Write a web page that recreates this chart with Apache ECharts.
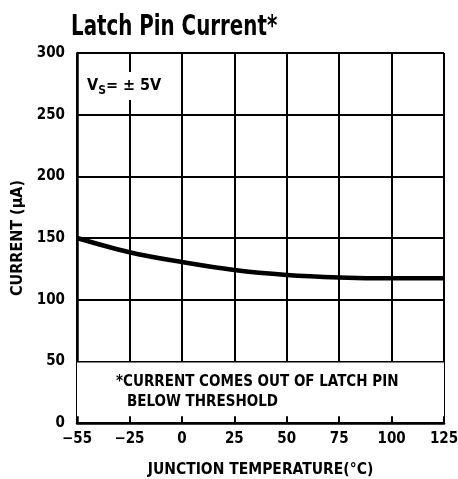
<!DOCTYPE html>
<html>
<head>
<meta charset="utf-8">
<script src="https://cdn.jsdelivr.net/npm/echarts@6/dist/echarts.min.js"></script>
<style>
  html, body { margin: 0; padding: 0; background: #fff; }
  #main { width: 458px; height: 479px; }
</style>
</head>
<body>
<div id="main"></div>
<script>
// junction temperature ticks (evenly spaced on the original plot)
var tempLabels = ['\u221255', '\u221225', '0', '25', '50', '75', '100', '125'];
// latch pin current, uA, read at each tick
var currentValues = [150, 138.5, 130.5, 124, 120, 118, 117.3, 117.3];
var yTicks = { min: 0, max: 300, step: 50 };

var FONT = '"DejaVu Sans Condensed", "Liberation Sans Narrow", sans-serif';

var chart = echarts.init(document.getElementById('main'));

chart.setOption({
    animation: false,
    backgroundColor: '#fff',
    grid: { left: 77, right: 14, top: 53, bottom: 56, outerBoundsMode: 'none', containLabel: false },
    xAxis: {
        type: 'category',
        boundaryGap: false,
        data: tempLabels,
        name: 'JUNCTION TEMPERATURE(\u00b0C)',
        nameLocation: 'middle',
        nameGap: 39,
        nameTextStyle: { fontFamily: FONT, fontWeight: 'bold', fontSize: 15.5, color: '#000' },
        axisLine: { lineStyle: { color: '#000', width: 2.5 } },
        axisTick: { show: true, inside: true, length: 6, interval: 0, lineStyle: { color: '#000', width: 2 } },
        axisLabel: { interval: 0, margin: 9, fontFamily: FONT, fontWeight: 'bold', fontSize: 15, color: '#000' },
        splitLine: { show: true, interval: 0, lineStyle: { color: '#000', width: 2 } }
    },
    yAxis: {
        type: 'value',
        min: yTicks.min,
        max: yTicks.max,
        interval: yTicks.step,
        name: 'CURRENT (\u03bcA)',
        nameLocation: 'middle',
        nameGap: 46,
        nameTextStyle: { fontFamily: FONT, fontWeight: 'bold', fontSize: 16, color: '#000' },
        axisLine: { show: true, lineStyle: { color: '#000', width: 2.5 } },
        axisTick: { show: false },
        axisLabel: { margin: 12, fontFamily: FONT, fontWeight: 'bold', fontSize: 15, color: '#000' },
        splitLine: { show: true, lineStyle: { color: '#000', width: 2 } }
    },
    series: [{
        type: 'line',
        data: currentValues,
        smooth: 0.35,
        symbol: 'none',
        lineStyle: { color: '#000', width: 4.5 },
        markArea: {
            silent: true,
            itemStyle: { color: '#fff' },
            data: [[{ yAxis: 5.5 }, { yAxis: 49 }]]
        }
    }],
    graphic: [
        {
            // title, squeezed to mimic the heavy condensed face
            type: 'text',
            x: 71,
            y: 13,
            scaleX: 0.76,
            style: {
                text: 'Latch Pin Current*',
                fontFamily: FONT, fontWeight: 'bold', fontSize: 29, fill: '#000'
            },
            z: 100
        },
        {
            type: 'text',
            left: 83,
            top: 72,
            style: {
                text: '{a|V}{s|S}{a|= \u00b1 5V}',
                backgroundColor: '#fff',
                padding: [3, 4, 3, 4],
                rich: {
                    a: { fontFamily: FONT, fontWeight: 'bold', fontSize: 16, color: '#000', lineHeight: 22, verticalAlign: 'middle' },
                    s: { fontFamily: FONT, fontWeight: 'bold', fontSize: 12, color: '#000', lineHeight: 22, verticalAlign: 'bottom' }
                }
            },
            z: 100
        },
        {
            type: 'text',
            left: 116,
            top: 375,
            style: {
                text: '*CURRENT COMES OUT OF LATCH PIN',
                fontFamily: FONT, fontWeight: 'bold', fontSize: 15, fill: '#000'
            },
            z: 100
        },
        {
            type: 'text',
            left: 127,
            top: 395,
            style: {
                text: 'BELOW THRESHOLD',
                fontFamily: FONT, fontWeight: 'bold', fontSize: 15, fill: '#000'
            },
            z: 100
        }
    ]
});
</script>
</body>
</html>
